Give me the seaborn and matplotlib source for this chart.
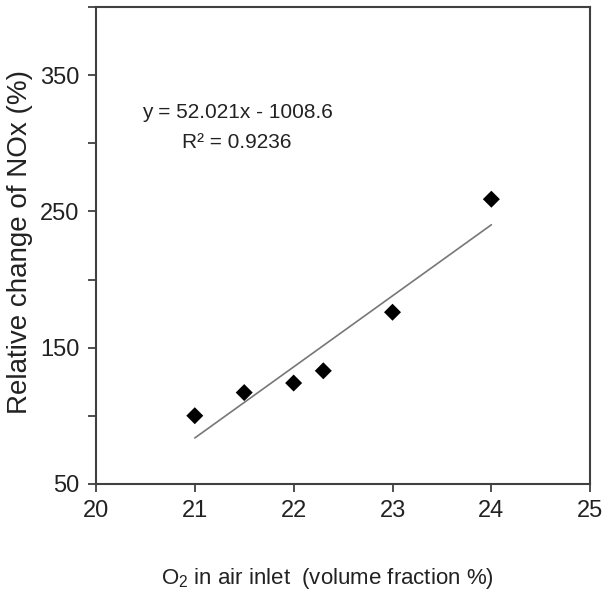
import matplotlib
matplotlib.use("Agg")
import matplotlib.pyplot as plt
import seaborn as sns
import numpy as np
import pandas as pd

# O2 volume fraction (%) vs relative change of NOx (%)
o2_fraction = [21.0, 21.5, 22.0, 22.3, 23.0, 24.0]
nox_change = [100, 117, 124, 133, 176, 259]
fit_label = "y = 52.021x - 1008.6"
r2_label = "R\u00b2 = 0.9236"

df = pd.DataFrame({"o2": o2_fraction, "nox": nox_change})

sns.set_style("ticks")
plt.rcParams["font.family"] = ["Liberation Sans", "DejaVu Sans"]
plt.rcParams["mathtext.fontset"] = "custom"
plt.rcParams["mathtext.rm"] = "Liberation Sans"
plt.rcParams["mathtext.it"] = "Liberation Sans"

fig = plt.figure(figsize=(6.11, 6.01), dpi=100)
ax = fig.add_axes([0.157, 0.195, 0.809, 0.793])

sns.regplot(data=df, x="o2", y="nox", ax=ax, ci=None, marker="D",
            scatter_kws={"s": 75, "color": "black", "alpha": 1,
                         "edgecolor": "none", "zorder": 3},
            line_kws={"color": "#777777", "linewidth": 1.2})

ax.set_xlim(20, 25)
ax.set_ylim(50, 400)
ax.set_xticks(np.arange(20, 26, 1))
yt = np.arange(50, 401, 50)
ax.set_yticks(yt)
ax.set_yticklabels([str(v) if v in (50, 150, 250, 350) else "" for v in yt])

for s in ax.spines.values():
    s.set_visible(True)
    s.set_color("#404040")
    s.set_linewidth(1.5)
ax.tick_params(direction="out", length=6, width=1.3, color="#404040",
               labelsize=17, labelcolor="#222222", pad=6)

ax.set_xlabel("O$_2$ in air inlet  (volume fraction %)", fontsize=16,
              color="#222222")
ax.xaxis.set_label_coords(0.468, -0.172)
ax.set_ylabel("Relative change of NOx (%)", fontsize=20, color="#222222")
ax.yaxis.set_label_coords(-0.128, 0.508)

ax.text(21.43, 323, fit_label, fontsize=15, ha="center", va="center", color="#222222")
ax.text(21.42, 301, r2_label, fontsize=15, ha="center", va="center", color="#222222")

fig.savefig("out.png", dpi=100)
